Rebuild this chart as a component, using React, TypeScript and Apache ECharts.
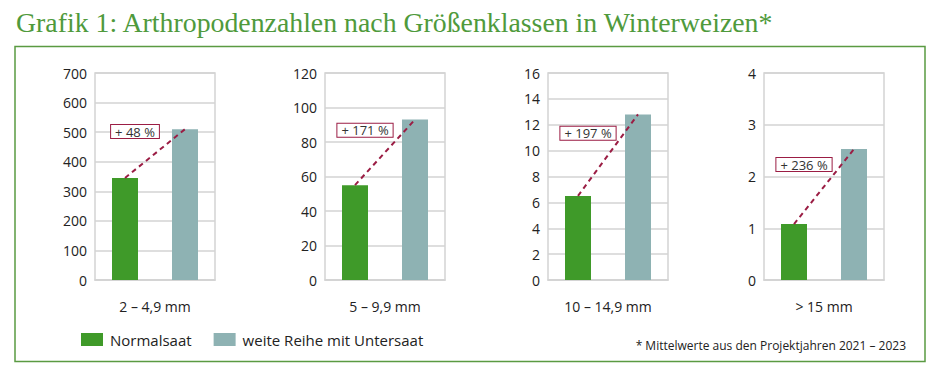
import React, { useEffect, useRef } from "react";
import * as echarts from "echarts";

const sizeClasses = ["2 – 4,9 mm", "5 – 9,9 mm", "10 – 14,9 mm", "> 15 mm"];
const normalsaat = [345, 55, 6.5, 1.08];
const untersaat = [510, 93, 12.8, 2.53];
const increaseLabels = ["+ 48 %", "+ 171 %", "+ 197 %", "+ 236 %"];
const yMax = [700, 120, 16, 4];
const yInterval = [100, 20, 2, 1];
const seriesNames = ["Normalsaat", "weite Reihe mit Untersaat"];
const titleText = "Grafik 1: Arthropodenzahlen nach Größenklassen in Winterweizen*";
const footnote = "* Mittelwerte aus den Projektjahren 2021 – 2023";

const GREEN = "#3f9a29";
const GRAY = "#8eb2b3";
const RED = "#9b1d44";
const GRID_LINE = "#d3d3d3";
const FONT = "'Open Sans', 'Noto Sans', sans-serif";

const gridLefts = [95, 325, 548, 764];

export default function App() {
  const ref = useRef<HTMLDivElement>(null);
  useEffect(() => {
    document.body.style.margin = "0";
    const chart = echarts.init(ref.current!, null, { renderer: "svg" });
    const grids: any[] = [];
    const xAxes: any[] = [];
    const yAxes: any[] = [];
    const series: any[] = [];
    sizeClasses.forEach((cls, i) => {
      grids.push({
        left: gridLefts[i],
        width: 120,
        top: 73,
        height: 207,
        show: true,
        borderColor: GRID_LINE,
        borderWidth: 1.5,
        backgroundColor: "transparent",
      });
      xAxes.push({
        type: "category",
        gridIndex: i,
        data: seriesNames,
        axisLabel: { show: false },
        axisTick: { show: false },
        axisLine: { lineStyle: { color: GRID_LINE, width: 1.5 } },
        name: cls,
        nameLocation: "middle",
        nameGap: 19,
        nameTextStyle: { fontSize: 14, color: "#222", fontFamily: FONT },
      });
      yAxes.push({
        type: "value",
        gridIndex: i,
        min: 0,
        max: yMax[i],
        interval: yInterval[i],
        axisLine: { show: false },
        axisTick: { show: false },
        axisLabel: { fontSize: 14, color: "#222", margin: 8, fontFamily: FONT },
        splitLine: { lineStyle: { color: GRID_LINE, width: 1.5 } },
      });
      series.push({
        type: "bar",
        name: seriesNames[0],
        xAxisIndex: i,
        yAxisIndex: i,
        stack: "s" + i,
        barWidth: 26,
        data: [normalsaat[i], null],
        itemStyle: { color: GREEN },
      });
      series.push({
        type: "bar",
        name: seriesNames[1],
        xAxisIndex: i,
        yAxisIndex: i,
        stack: "s" + i,
        barWidth: 26,
        data: [null, untersaat[i]],
        itemStyle: { color: GRAY },
      });
      series.push({
        type: "line",
        name: "increase" + i,
        xAxisIndex: i,
        yAxisIndex: i,
        data: [normalsaat[i], untersaat[i]],
        symbol: "none",
        z: 5,
        lineStyle: { color: RED, width: 2, type: [5, 4] },
        markPoint: {
          symbol: "rect",
          symbolSize: 0,
          data: [{ coord: [0, (normalsaat[i] + untersaat[i]) / 2] }],
          label: {
            show: true,
            formatter: increaseLabels[i],
            position: "inside",
            offset: [10, -22],
            color: "#333",
            fontSize: 13,
            fontFamily: FONT,
            backgroundColor: "#fff",
            borderColor: RED,
            borderWidth: 1,
            padding: [0, 4, 0, 4],
          },
        },
      });
    });
    chart.setOption({
      animation: false,
      backgroundColor: "#fff",
      grid: grids,
      xAxis: xAxes,
      yAxis: yAxes,
      series,
      legend: {
        data: seriesNames,
        left: 76,
        top: 327,
        itemWidth: 22,
        itemHeight: 13,
        itemGap: 22,
        icon: "rect",
        textStyle: { fontSize: 15, color: "#222", fontFamily: FONT, padding: [0, 0, 0, 2] },
        selectedMode: false,
      },
      graphic: [
        {
          type: "text",
          left: 16,
          top: 8,
          style: {
            text: titleText,
            font: "27.8px 'Liberation Serif', serif",
            fill: "#4f9a3c",
          },
        },
        {
          type: "rect",
          shape: { x: 15, y: 46.5, width: 910, height: 315 },
          style: { fill: "none", stroke: "#5a9a42", lineWidth: 1.5 },
        },
        {
          type: "text",
          right: 32,
          top: 339,
          style: {
            text: footnote,
            font: "12px 'Open Sans', sans-serif",
            fill: "#222",
          },
        },
      ],
    });
    return () => chart.dispose();
  }, []);
  return <div ref={ref} style={{ width: 938, height: 379 }} />;
}
